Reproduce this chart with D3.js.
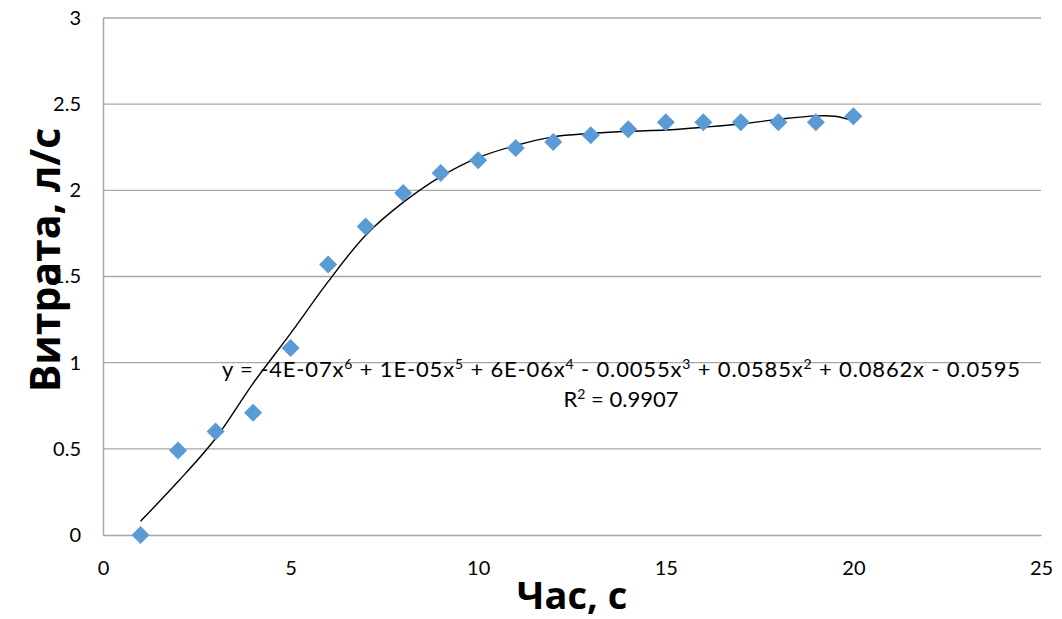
<!DOCTYPE html>
<html>
<head>
<meta charset="utf-8">
<script src="https://cdn.jsdelivr.net/npm/d3@7"></script>
<style>
  body { margin: 0; background: #fff; }
  text { font-family: Lato, "Noto Sans", sans-serif; }
</style>
</head>
<body>
<div id="chart"></div>
<script>
// measured points
const hours = [1, 2, 3, 4, 5, 6, 7, 8, 9, 10, 11, 12, 13, 14, 15, 16, 17, 18, 19, 20];
const flow = [0, 0.49, 0.60, 0.71, 1.085, 1.57, 1.79, 1.985, 2.10, 2.175, 2.245, 2.28, 2.32, 2.355, 2.395, 2.395, 2.395, 2.395, 2.395, 2.43];

// trendline
const trendX = [1, 2, 3, 4, 5, 6, 7, 8, 9, 10, 11, 12, 13, 14, 15, 16, 17, 18, 19, 19.5, 20];
const trendY = [0.08, 0.31, 0.56, 0.88, 1.17, 1.47, 1.74, 1.93, 2.08, 2.19, 2.26, 2.31, 2.33, 2.343, 2.35, 2.366, 2.385, 2.412, 2.432, 2.43, 2.405];

const xTicks = [0, 5, 10, 15, 20, 25];
const yTicks = [0, 0.5, 1, 1.5, 2, 2.5, 3];

// equation pieces: [text, superscript?]
const equation = [
  ['y = -4E-07x', false], ['6', true], [' + 1E-05x', false], ['5', true],
  [' + 6E-06x', false], ['4', true], [' - 0.0055x', false], ['3', true],
  [' + 0.0585x', false], ['2', true], [' + 0.0862x - 0.0595', false]
];
const rSquared = [['R', false], ['2', true], [' = 0.9907', false]];

const width = 1062;
const height = 619;
const margin = { top: 18, right: 21, bottom: 84, left: 103 };

const svg = d3.select('#chart')
  .append('svg')
  .attr('width', width)
  .attr('height', height);

const x = d3.scaleLinear()
  .domain([0, 25])
  .range([margin.left, width - margin.right]);

const y = d3.scaleLinear()
  .domain([0, 3])
  .range([height - margin.bottom, margin.top]);

// horizontal gridlines
svg.append('g')
  .selectAll('line')
  .data(yTicks.slice(1))
  .enter()
  .append('line')
  .attr('x1', x(0))
  .attr('x2', x(25))
  .attr('y1', d => y(d))
  .attr('y2', d => y(d))
  .attr('stroke', '#a6a6a6')
  .attr('stroke-width', 1.3);

// axes
const xAxis = svg.append('g')
  .attr('transform', `translate(0, ${y(0)})`)
  .call(d3.axisBottom(x).tickValues(xTicks).tickSize(0).tickPadding(26));

const yAxis = svg.append('g')
  .attr('transform', `translate(${x(0)}, 0)`)
  .call(d3.axisLeft(y).tickValues(yTicks).tickSize(0).tickPadding(22).tickFormat(d3.format('')));

[xAxis, yAxis].forEach(g => {
  g.select('.domain').attr('stroke', '#a6a6a6').attr('stroke-width', 1.5);
  g.selectAll('text')
    .attr('fill', '#000')
    .style('font-size', '20px')
    .style('font-family', 'Lato, "Noto Sans", sans-serif');
});

// trendline
const line = d3.line()
  .x(d => x(d[0]))
  .y(d => y(d[1]))
  .curve(d3.curveCatmullRom);

svg.append('path')
  .datum(trendX.map((d, i) => [d, trendY[i]]))
  .attr('d', line)
  .attr('fill', 'none')
  .attr('stroke', '#000')
  .attr('stroke-width', 1.4);

// markers
svg.append('g')
  .selectAll('path')
  .data(hours.map((d, i) => [d, flow[i]]))
  .enter()
  .append('path')
  .attr('d', d3.symbol(d3.symbolSquare, 162))
  .attr('transform', d => `translate(${x(d[0])}, ${y(d[1])}) rotate(45)`)
  .attr('fill', '#5b9bd5');

// trendline label
function richText(parts, xPos, yPos, anchor, len) {
  const t = svg.append('text')
    .attr('x', xPos)
    .attr('y', yPos)
    .attr('text-anchor', anchor)
    .style('font-size', '22px');
  if (len) t.attr('textLength', len);
  let raised = false;
  parts.forEach(p => {
    const s = t.append('tspan').text(p[0]);
    if (p[1] && !raised) { s.attr('dy', -8).style('font-size', '14px'); raised = true; }
    else if (!p[1] && raised) { s.attr('dy', 8); raised = false; }
  });
}

richText(equation, 222, 377, 'start', 798);
richText(rSquared, 621, 407, 'middle');

// axis titles
svg.append('text')
  .attr('x', x(12.5))
  .attr('y', 609)
  .attr('text-anchor', 'middle')
  .style('font-family', '"Open Sans", sans-serif')
  .style('font-size', '38px')
  .style('font-weight', 'bold')
  .text('Час, с');

svg.append('text')
  .attr('transform', 'translate(60, 260) rotate(-90)')
  .attr('text-anchor', 'middle')
  .style('font-family', '"Open Sans", sans-serif')
  .style('font-size', '41px')
  .style('font-weight', 'bold')
  .text('Витрата, л/с');
</script>
</body>
</html>
